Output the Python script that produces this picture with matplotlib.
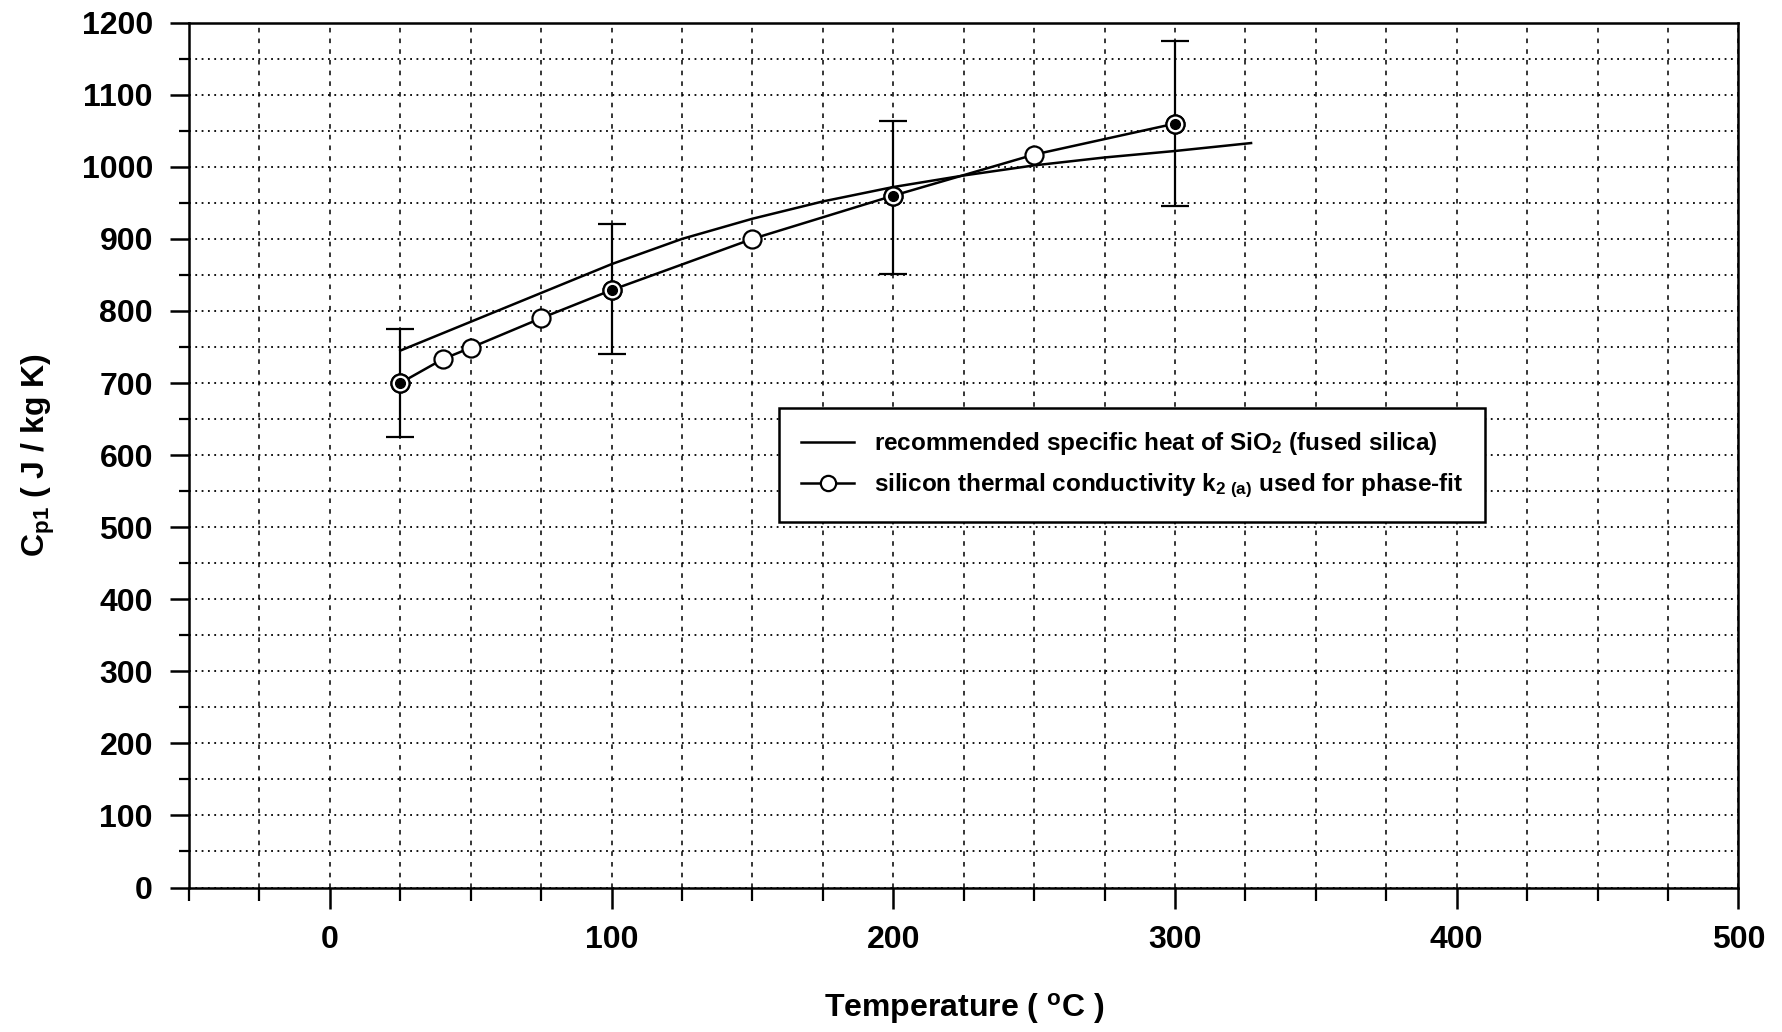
import numpy as np
import matplotlib
matplotlib.use('Agg')
import matplotlib.pyplot as plt
from matplotlib import font_manager
from matplotlib.ticker import MultipleLocator

# pick a narrow sans font if it is there
names = [f.name for f in font_manager.fontManager.ttflist]
if 'Liberation Sans Narrow' in names:
    plt.rcParams['font.family'] = ['Liberation Sans Narrow', 'DejaVu Sans']
else:
    plt.rcParams['font.family'] = ['Liberation Sans', 'DejaVu Sans']
plt.rcParams['mathtext.fontset'] = 'custom'
plt.rcParams['mathtext.rm'] = plt.rcParams['font.family'][0] + ':bold'
plt.rcParams['mathtext.default'] = 'rm'

# recommended specific heat of SiO2
sio2_T = [25, 50, 75, 100, 125, 150, 175, 200, 225, 250, 275, 300, 327]
sio2_cp = [745, 785, 825, 865, 900, 928, 952, 972, 988, 1002, 1013, 1022, 1033]

# phase-fit values
fit_T = [25, 40, 50, 75, 100, 150, 200, 250, 300]
fit_cp = [700, 733, 749, 790, 829, 900, 960, 1017, 1060]

# points that carry error bars
err_T = [25, 100, 200, 300]
err_cp = [700, 829, 960, 1060]
err_lo = [625, 740, 852, 945]
err_hi = [775, 920, 1063, 1175]

fig = plt.figure(figsize=(17.83, 10.32), dpi=100)
ax = fig.add_axes([0.106, 0.140, 0.869, 0.838])

ax.plot(sio2_T, sio2_cp, color='black', lw=1.8,
        label='recommended specific heat of SiO$_2$ (fused silica)')
ax.plot(fit_T, fit_cp, color='black', lw=1.8, marker='o', ms=13,
        mfc='white', mec='black', mew=1.6,
        label='silicon thermal conductivity k$_{2\\ (a)}$ used for phase-fit')

yerr = [np.array(err_cp) - np.array(err_lo), np.array(err_hi) - np.array(err_cp)]
ax.errorbar(err_T, err_cp, yerr=yerr, fmt='none', ecolor='black',
            elinewidth=1.6, capsize=10, capthick=1.6, zorder=3)
ax.plot(err_T, err_cp, ls='none', marker='o', ms=13, mfc='white',
        mec='black', mew=1.6, zorder=4)
ax.plot(err_T, err_cp, ls='none', marker='o', ms=7, color='black', zorder=5)

ax.set_xlim(-50, 500)
ax.set_ylim(0, 1200)
ax.xaxis.set_major_locator(MultipleLocator(100))
ax.xaxis.set_minor_locator(MultipleLocator(25))
ax.yaxis.set_major_locator(MultipleLocator(100))
ax.yaxis.set_minor_locator(MultipleLocator(50))

ax.grid(True, which='both', axis='x', color='black', ls=(0, (3, 4)), lw=1.1)
ax.grid(True, which='both', axis='y', color='black', ls=(0, (1, 2.5)), lw=1.3)
ax.set_axisbelow(True)

ax.tick_params(axis='x', which='major', direction='out', length=15, width=1.8,
               labelsize=23, pad=12)
ax.tick_params(axis='y', which='major', direction='out', length=14, width=1.8,
               labelsize=23, pad=12)
ax.tick_params(axis='x', which='minor', direction='out', length=9, width=1.6)
ax.tick_params(axis='y', which='minor', direction='out', length=7, width=1.6)
for lab in ax.get_xticklabels() + ax.get_yticklabels():
    lab.set_fontweight('bold')
for s in ax.spines.values():
    s.set_linewidth(1.8)

ax.set_xlabel('Temperature ( $^{o}$C )', fontsize=23, fontweight='bold', labelpad=26)
ax.set_ylabel('C$_{p1}$ ( J / kg K)', fontsize=23, fontweight='bold', labelpad=18)

leg = ax.legend(loc='upper left', bbox_to_anchor=(0.373, 0.568),
                fontsize=17.5, frameon=True, fancybox=False, edgecolor='black',
                framealpha=1, borderpad=0.9, handlelength=2.2, labelspacing=0.6)
leg.get_frame().set_linewidth(1.8)
for t in leg.get_texts():
    t.set_fontweight('bold')
leg.legend_handles[1].set_markersize(11)

fig.savefig('out.png', dpi=100)
